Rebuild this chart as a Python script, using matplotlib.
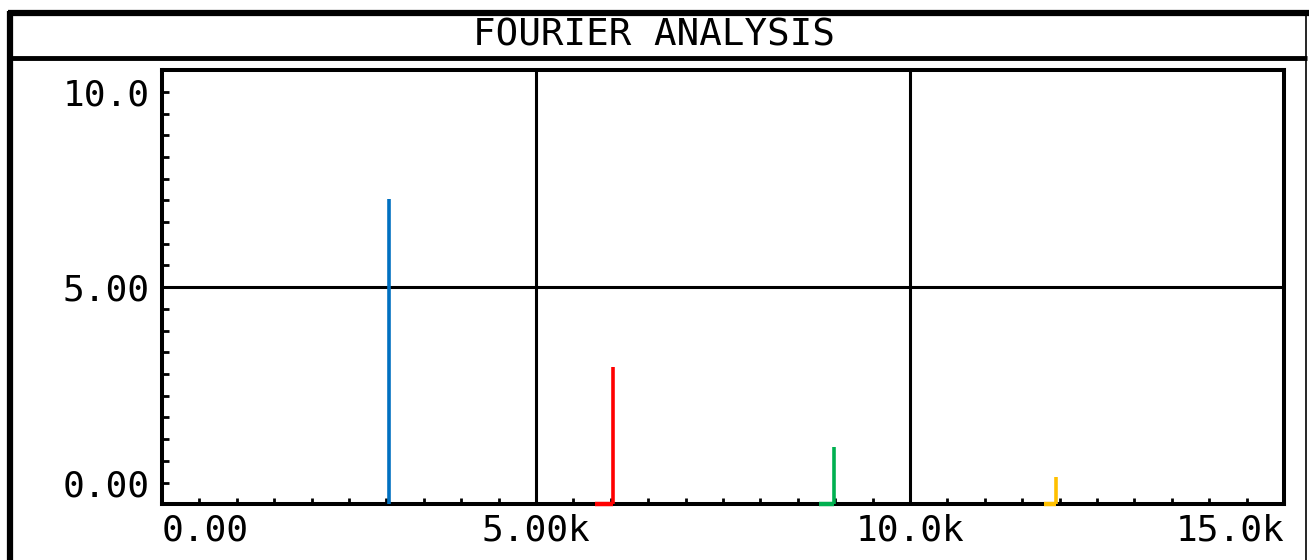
import numpy as np
import matplotlib
matplotlib.use('Agg')
import matplotlib.pyplot as plt
from matplotlib.lines import Line2D

# harmonics
freq = [3030, 6025, 8978, 11957]      # Hz
amp = [7.26, 2.96, 0.91, 0.14]
colors = ['#0070C0', '#FF0000', '#00B050', '#FFC000']
leak = [0, 240, 190, 170]             # flat part left of each spike, Hz

xticks = [0, 5000, 10000, 15000]
xlabels = ['0.00', '5.00k', '10.0k', '15.0k']
yticks = [0, 5, 10]
ylabels = ['0.00', '5.00', '10.0']

plt.rcParams['font.family'] = ['DejaVu Sans Mono']

W, H = 1309, 560
fig = plt.figure(figsize=(W / 100, H / 100), dpi=100)
ax = fig.add_axes([162 / W, 56 / H, 1122 / W, 434 / H])

ymin, ymax = -0.55, 10.56
ax.set_xlim(0, 15000)
ax.set_ylim(ymin, ymax)

# grid: only the inner lines
ax.axhline(5, color='k', lw=2.2, zorder=1)
for x in (5000, 10000):
    ax.axvline(x, color='k', lw=2.2, zorder=1)

ax.vlines(freq, ymin, amp, colors=colors, lw=2.6, zorder=3)
for f, w, c in zip(freq, leak, colors):
    if w:
        ax.plot([f - w, f], [ymin, ymin], color=c, lw=3.2, clip_on=False,
                zorder=4, solid_capstyle='butt')

for s in ax.spines.values():
    s.set_linewidth(2.9)

ax.set_xticks(xticks)
ax.set_xticklabels(xlabels)
ax.set_xticks(np.arange(500, 15000, 500), minor=True)
ax.set_yticks(yticks)
ax.set_yticklabels(ylabels)
ax.set_yticks(np.arange(1, 19) * 5 / 9, minor=True)
ax.tick_params(which='both', direction='in', width=2, colors='k', labelsize=26)
ax.tick_params(axis='x', which='both', length=4.5, pad=7)
ax.tick_params(axis='y', which='both', length=5, pad=9)
labs = ax.get_xticklabels()
labs[0].set_ha('left')
labs[-1].set_ha('right')


def fline(xs, ys, lw):
    fig.add_artist(Line2D(np.array(xs) / W, 1 - np.array(ys) / H, color='k',
                          lw=lw, transform=fig.transFigure,
                          solid_capstyle='butt'))


fline([10, 10], [11, H], 4.5)
fline([8, W], [13, 13], 4.5)
fline([10, 1307], [57.5, 57.5], 3.5)
fline([1306, 1306], [13, H], 1.2)

fig.text(654 / W, 1 - 35 / H, 'FOURIER ANALYSIS', ha='center', va='center',
         fontsize=27)

plt.savefig('out.png', dpi=100)
